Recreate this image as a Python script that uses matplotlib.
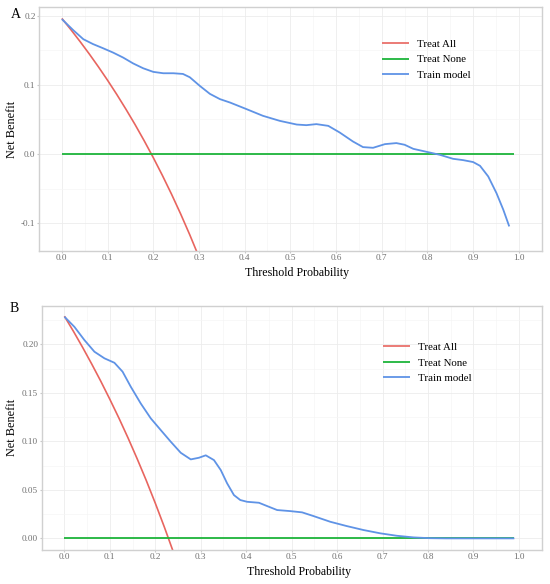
import matplotlib
matplotlib.use("Agg")
import matplotlib.pyplot as plt
from matplotlib.ticker import MultipleLocator

plt.rcParams['font.family'] = ['Liberation Serif', 'DejaVu Serif']

# ---------------- data ----------------
# Panel A
a_all_x = [0.00, 0.02, 0.04, 0.06, 0.08, 0.10, 0.12, 0.14, 0.16, 0.18, 0.20, 0.22, 0.24, 0.26, 0.28, 0.30]
a_all_y = [0.196, 0.1796, 0.1625, 0.1447, 0.1261, 0.1067, 0.0864, 0.0651, 0.0429, 0.0195, -0.0050,
           -0.0308, -0.0579, -0.0865, -0.1167, -0.1486]
a_none_x = [0.0, 0.99]
a_none_y = [0.0, 0.0]
a_model_x = [0.000, 0.025, 0.047, 0.068, 0.090, 0.112, 0.134, 0.156, 0.178, 0.200, 0.222, 0.244, 0.265,
             0.280, 0.302, 0.324, 0.346, 0.368, 0.404, 0.440, 0.477, 0.514, 0.535, 0.557, 0.583, 0.608,
             0.637, 0.659, 0.681, 0.707, 0.732, 0.750, 0.769, 0.798, 0.827, 0.856, 0.878, 0.900, 0.915,
             0.933, 0.951, 0.966, 0.979]
a_model_y = [0.195, 0.179, 0.166, 0.159, 0.153, 0.1467, 0.1395, 0.131, 0.124, 0.1188, 0.1168, 0.1168, 0.1158,
             0.111, 0.0985, 0.087, 0.0794, 0.0745, 0.065, 0.0553, 0.048, 0.0427, 0.0418, 0.0433, 0.0408, 0.0312,
             0.0182, 0.0101, 0.0091, 0.0144, 0.0159, 0.0135, 0.0076, 0.0033, -0.001, -0.0068, -0.0087, -0.0115,
             -0.0169, -0.0323, -0.0563, -0.0804, -0.1045]

# Panel B
b_all_x = [0.00, 0.02, 0.04, 0.06, 0.08, 0.10, 0.12, 0.14, 0.16, 0.18, 0.20, 0.22, 0.24]
b_all_y = [0.229, 0.2133, 0.1969, 0.1798, 0.1620, 0.1433, 0.1239, 0.1035, 0.0821, 0.0598, 0.0362, 0.0115, -0.0145]
b_none_x = [0.0, 0.99]
b_none_y = [0.0, 0.0]
b_model_x = [0.000, 0.022, 0.044, 0.066, 0.088, 0.110, 0.128, 0.146, 0.168, 0.190, 0.212, 0.234, 0.256,
             0.278, 0.296, 0.311, 0.329, 0.344, 0.358, 0.373, 0.387, 0.402, 0.428, 0.446, 0.468, 0.497,
             0.523, 0.548, 0.585, 0.621, 0.658, 0.695, 0.731, 0.768, 0.804, 0.840, 0.990]
b_model_y = [0.2285, 0.218, 0.2044, 0.1924, 0.1856, 0.181, 0.1718, 0.1563, 0.139, 0.1237, 0.1116, 0.0996,
             0.0882, 0.0814, 0.0831, 0.0856, 0.0807, 0.0704, 0.0567, 0.0446, 0.0395, 0.0377, 0.0367, 0.0333,
             0.0292, 0.0281, 0.0268, 0.023, 0.0171, 0.0127, 0.0086, 0.0052, 0.0027, 0.001, 0.0002, 0.0, 0.0]

legend_labels = ["Treat All", "Treat None", "Train model"]
panel_letters = ["A", "B"]
x_ticks = [0.0, 0.1, 0.2, 0.3, 0.4, 0.5, 0.6, 0.7, 0.8, 0.9, 1.0]
a_y_ticks = [-0.1, 0.0, 0.1, 0.2]
b_y_ticks = [0.00, 0.05, 0.10, 0.15, 0.20]

c_all = "#E8655F"
c_none = "#1DB43A"
c_model = "#5F93E6"

fig = plt.figure(figsize=(5.5, 5.84), dpi=100)
axA = fig.add_axes([0.0709, 0.5702, 0.914, 0.4178])
axB = fig.add_axes([0.0758, 0.0582, 0.909, 0.4183])


def style(ax, yticks, ylim, yfmt, minor_y, ylab_x):
    ax.set_xlim(-0.05, 1.05)
    ax.set_ylim(*ylim)
    ax.set_xticks(x_ticks)
    ax.set_xticklabels([f"{t:.1f}" for t in x_ticks])
    ax.set_yticks(yticks)
    ax.set_yticklabels([yfmt.format(t) for t in yticks])
    ax.xaxis.set_minor_locator(MultipleLocator(0.05))
    ax.yaxis.set_minor_locator(MultipleLocator(minor_y))
    ax.grid(which='major', color='#ececec', linewidth=0.6)
    ax.grid(which='minor', color='#f5f5f5', linewidth=0.5)
    ax.set_axisbelow(True)
    for s in ax.spines.values():
        s.set_color('#d0d0d0')
        s.set_linewidth(1.0)
    ax.tick_params(which='major', length=1.5, color='#c8c8c8', labelsize=6.6, labelcolor='#6e6e6e', pad=1)
    ax.tick_params(which='minor', length=0)
    ax.set_xlabel("Threshold Probability", fontsize=8.6, labelpad=3)
    ax.xaxis.label.set_x(0.514)
    ax.set_ylabel("Net Benefit", fontsize=8.8)
    ax.yaxis.set_label_coords(ylab_x, 0.5)


def draw(ax, ax_x, ay, nx, ny, mx, my):
    ax.plot(ax_x, ay, color=c_all, lw=1.2, label=legend_labels[0], solid_capstyle='butt')
    ax.plot(nx, ny, color=c_none, lw=1.3, label=legend_labels[1], solid_capstyle='butt')
    ax.plot(mx, my, color=c_model, lw=1.3, label=legend_labels[2], solid_capstyle='butt',
            solid_joinstyle='round')


draw(axA, a_all_x, a_all_y, a_none_x, a_none_y, a_model_x, a_model_y)
style(axA, a_y_ticks, (-0.14, 0.2125), "{:.1f}", 0.05, -0.042)
draw(axB, b_all_x, b_all_y, b_none_x, b_none_y, b_model_x, b_model_y)
style(axB, b_y_ticks, (-0.012, 0.2398), "{:.2f}", 0.025, -0.047)

for ax, top in ((axA, 0.868), (axB, 0.85)):
    ax.legend(loc='upper left', bbox_to_anchor=(0.682, top), frameon=False, fontsize=7.8,
              handlelength=2.5, handletextpad=0.75, labelspacing=0.56, borderpad=0, borderaxespad=0)

fig.text(11 / 550, 1 - 14 / 584, panel_letters[0], fontsize=10, ha='left', va='center')
fig.text(10 / 550, 1 - 308 / 584, panel_letters[1], fontsize=10, ha='left', va='center')

fig.savefig("out.png", dpi=100)
